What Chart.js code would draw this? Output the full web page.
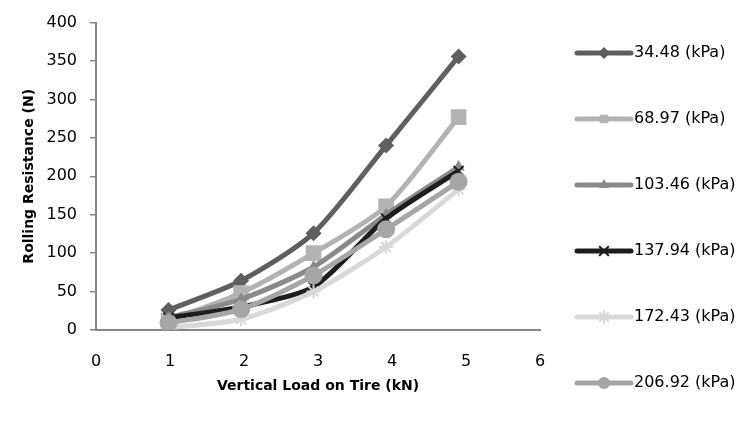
<!DOCTYPE html>
<html lang="en">

<head>
    <meta charset="UTF-8">
    <title>Rolling Resistance vs Vertical Load</title>
    <script src="https://cdn.jsdelivr.net/npm/chart.js"></script>
    <style>
        body {
            margin: 0;
            background: #ffffff;
        }

        .chart-container {
            width: 746px;
            height: 433px;
        }
    </style>
</head>

<body>
    <div class="chart-container">
        <canvas id="rrChart" width="746" height="433"></canvas>
    </div>

    <script>
        // Vertical load on tire (kN)
        const loads = [0.98, 1.96, 2.94, 3.92, 4.90];

        // Rolling resistance (N) for each inflation pressure
        const rr3448 = [26, 64, 126, 240, 356];
        const rr6897 = [12, 48, 100, 161, 277];
        const rr10346 = [16, 40, 82, 150, 212];
        const rr13794 = [16, 30, 56, 145, 207];
        const rr17243 = [3, 14, 50, 108, 183];
        const rr20692 = [9, 27, 71, 131, 193];

        const pressureLabels = ['34.48 (kPa)', '68.97 (kPa)', '103.46 (kPa)', '137.94 (kPa)', '172.43 (kPa)', '206.92 (kPa)'];
        const seriesValues = [rr3448, rr6897, rr10346, rr13794, rr17243, rr20692];

        const colors = ['#5f5f5f', '#b3b3b3', '#8a8a8a', '#1e1e1e', '#d9d9d9', '#a6a6a6'];
        const styles = ['rectRot', 'rect', 'triangle', 'crossRot', 'star', 'circle'];
        const radii = [8, 11, 7, 7, 7, 9];

        const tickFont = { family: 'DejaVu Sans', size: 16 };
        const titleFont = { family: 'DejaVu Sans', size: 14, weight: 'bold' };

        const datasets = seriesValues.map((vals, i) => ({
            label: pressureLabels[i],
            data: vals.map((v, j) => ({ x: loads[j], y: v })),
            borderColor: colors[i],
            backgroundColor: colors[i],
            borderWidth: 5,
            pointStyle: styles[i],
            pointRadius: radii[i],
            pointBorderWidth: styles[i] === 'crossRot' || styles[i] === 'star' ? 2 : 0,
            pointBorderColor: colors[i],
            pointBackgroundColor: colors[i],
            tension: 0.25,
            showLine: true,
            order: seriesValues.length - i
        }));

        // legend on the right: line with marker, like the spreadsheet chart
        const sideLegend = {
            id: 'sideLegend',
            afterDraw(chart) {
                const c = chart.ctx;
                const x0 = 577, x1 = 631;
                chart.data.datasets.forEach((ds, i) => {
                    const y = 53 + i * 66;
                    c.save();
                    c.strokeStyle = ds.borderColor;
                    c.lineWidth = 5;
                    c.lineCap = 'round';
                    c.beginPath();
                    c.moveTo(x0, y);
                    c.lineTo(x1, y);
                    c.stroke();
                    c.fillStyle = ds.backgroundColor;
                    c.strokeStyle = ds.borderColor;
                    c.lineWidth = ds.pointBorderWidth || 1;
                    Chart.helpers.drawPoint(c, {
                        pointStyle: ds.pointStyle,
                        radius: Math.min(ds.pointRadius, 6),
                        rotation: 0,
                        borderWidth: ds.pointBorderWidth
                    }, (x0 + x1) / 2, y);
                    c.fillStyle = '#000000';
                    c.font = '16px "DejaVu Sans"';
                    c.textBaseline = 'middle';
                    c.textAlign = 'left';
                    c.fillText(ds.label, x1 + 3, y);
                    c.restore();
                });
            }
        };

        const config = {
            type: 'scatter',
            data: { datasets: datasets },
            options: {
                responsive: false,
                animation: false,
                layout: {
                    padding: { top: 19, right: 206, left: 0, bottom: 0 }
                },
                plugins: {
                    legend: { display: false },
                    tooltip: { enabled: false }
                },
                scales: {
                    x: {
                        type: 'linear',
                        min: 0,
                        max: 6,
                        ticks: {
                            stepSize: 1,
                            color: '#000000',
                            font: tickFont,
                            padding: 14
                        },
                        grid: { display: false },
                        border: { display: true, color: '#868686', width: 2 },
                        title: {
                            display: true,
                            text: 'Vertical Load on Tire (kN)',
                            color: '#000000',
                            font: titleFont,
                            padding: { bottom: 38 }
                        },
                        afterFit: (scale) => { scale.height = 103; }
                    },
                    y: {
                        min: 0,
                        max: 400,
                        ticks: {
                            stepSize: 50,
                            color: '#000000',
                            font: tickFont,
                            padding: 13
                        },
                        grid: {
                            drawOnChartArea: false,
                            drawTicks: true,
                            tickLength: 6,
                            color: '#868686',
                            lineWidth: 1.5
                        },
                        border: { display: true, color: '#868686', width: 2 },
                        title: {
                            display: true,
                            text: 'Rolling Resistance (N)',
                            color: '#000000',
                            font: titleFont,
                            padding: { top: 21 }
                        },
                        afterFit: (scale) => { scale.width = 96; }
                    }
                }
            },
            plugins: [sideLegend]
        };

        const rrChart = new Chart(document.getElementById('rrChart').getContext('2d'), config);
    </script>

</body>

</html>
